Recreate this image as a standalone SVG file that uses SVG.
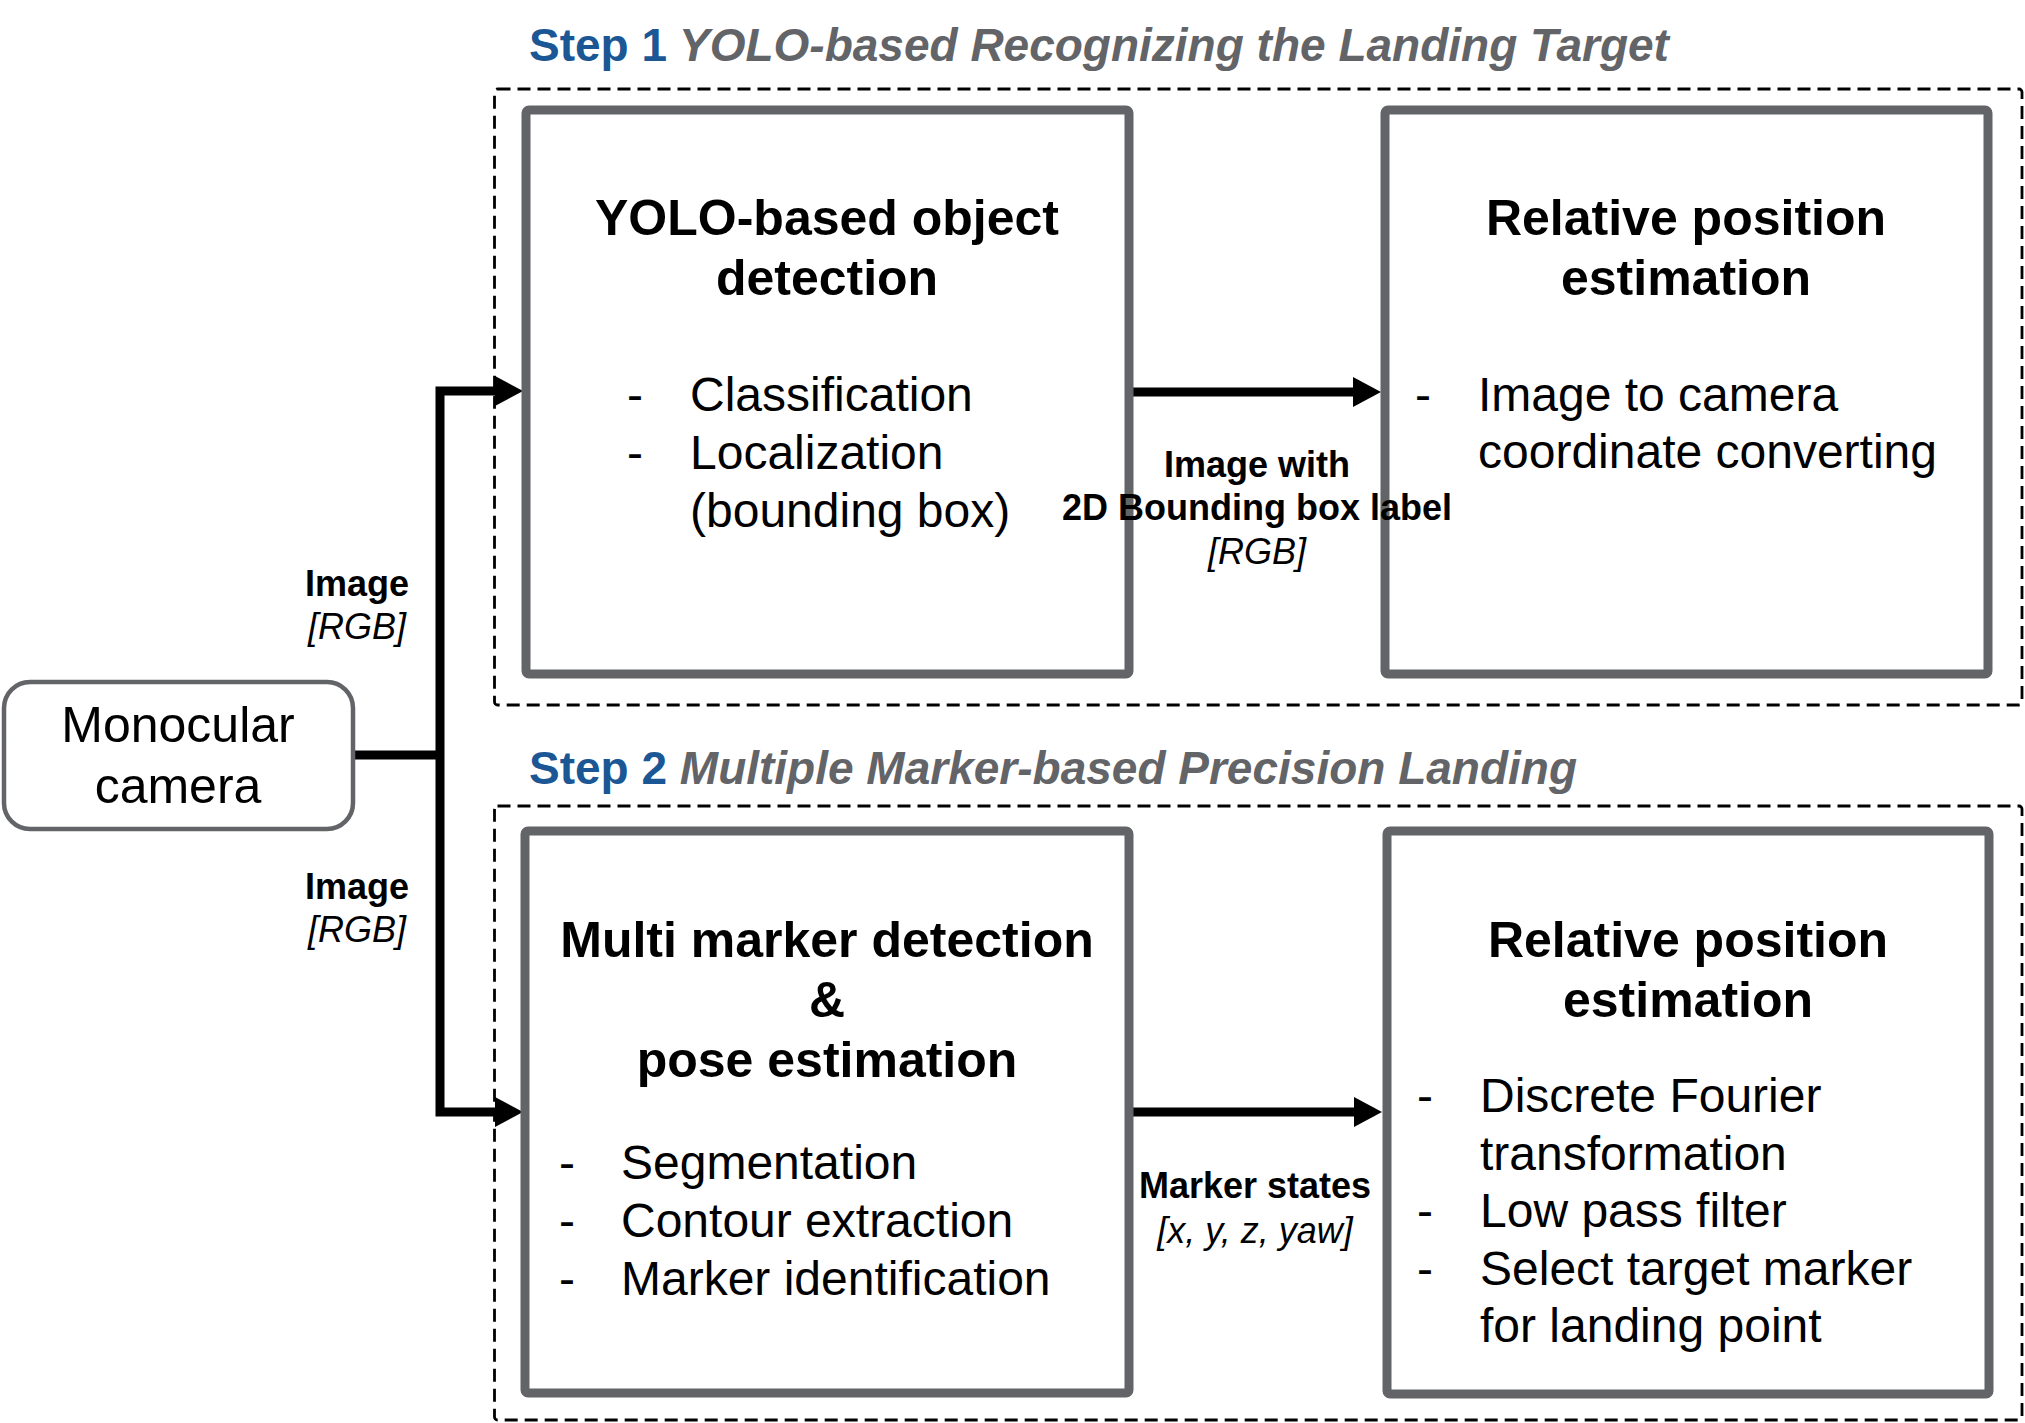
<svg xmlns="http://www.w3.org/2000/svg" width="2025" height="1423" viewBox="0 0 2025 1423">
<style>
text{font-family:"Liberation Sans",Arial,sans-serif;fill:#000}
.step{font-size:46px;font-weight:bold}
.stepn{fill:#1B5795}
.stepd{fill:#636468;font-style:italic}
.box{fill:#fff;stroke:#636468;stroke-width:9}
.cam{fill:#fff;stroke:#636468;stroke-width:4.5}
.dash{fill:none;stroke:#000;stroke-width:2.8;stroke-dasharray:13 7}
.ttl{font-size:50px;font-weight:bold;text-anchor:middle}
.item{font-size:48px}
.lbl{font-size:36px;font-weight:bold;text-anchor:middle}
.lbli{font-size:36px;font-style:italic;text-anchor:middle}
.conn{fill:none;stroke:#000;stroke-width:9;stroke-linejoin:miter}
</style>
<defs>
<marker id="ah" markerUnits="userSpaceOnUse" markerWidth="28" markerHeight="30" refX="2" refY="15" orient="auto-start-reverse" viewBox="0 0 28 30">
<path d="M0,0 L28,15 L0,30 Z" fill="#000"/>
</marker>
</defs>

<g id="step1">
<rect class="dash" x="494.5" y="89" width="1527.5" height="616" rx="3"/>
<text class="step" x="529" y="61"><tspan class="stepn">Step 1</tspan><tspan class="stepd"> YOLO-based Recognizing the Landing Target</tspan></text>
</g>
<g id="step2">
<rect class="dash" x="494.5" y="806" width="1527.5" height="614" rx="3"/>
<text class="step" x="529" y="784"><tspan class="stepn">Step 2</tspan><tspan class="stepd"> Multiple Marker-based Precision Landing</tspan></text>
</g>

<g id="connectors">
<path class="conn" d="M353,755 H444"/>
<path class="conn" d="M497,391 H440 V1112 H497" marker-start="url(#ah)" marker-end="url(#ah)"/>
<path class="conn" d="M1133,392 H1355" marker-end="url(#ah)"/>
<path class="conn" d="M1133,1112 H1356" marker-end="url(#ah)"/>
<text class="lbl" x="357" y="596">Image</text>
<text class="lbli" x="357" y="639">[RGB]</text>
<text class="lbl" x="357" y="899">Image</text>
<text class="lbli" x="357" y="942">[RGB]</text>
</g>

<g id="camera">
<rect class="cam" x="4" y="682" width="349" height="147" rx="26"/>
<text x="178" y="742" font-size="50" text-anchor="middle">Monocular</text>
<text x="178" y="803" font-size="50" text-anchor="middle">camera</text>
</g>

<g id="yolo">
<rect class="box" x="526" y="110" width="603" height="564" rx="3"/>
<text class="ttl" x="827" y="235">YOLO-based object</text>
<text class="ttl" x="827" y="295">detection</text>
<text class="item" x="627" y="411">-</text>
<text class="item" x="690" y="411">Classification</text>
<text class="item" x="627" y="469">-</text>
<text class="item" x="690" y="469">Localization</text>
<text class="item" x="690" y="527">(bounding box)</text>
</g>

<g id="rel1">
<rect class="box" x="1385" y="110" width="603" height="564" rx="3"/>
<text class="ttl" x="1686" y="235">Relative position</text>
<text class="ttl" x="1686" y="295">estimation</text>
<text class="item" x="1415" y="411">-</text>
<text class="item" x="1478" y="411">Image to camera</text>
<text class="item" x="1478" y="468">coordinate converting</text>
</g>

<g id="lbl-ab">
<text class="lbl" x="1257" y="477">Image with</text>
<text class="lbl" x="1257" y="520">2D Bounding box label</text>
<text class="lbli" x="1257" y="564">[RGB]</text>
</g>

<g id="marker">
<rect class="box" x="525" y="831" width="604" height="562" rx="3"/>
<text class="ttl" x="827" y="957">Multi marker detection</text>
<text class="ttl" x="827" y="1017">&amp;</text>
<text class="ttl" x="827" y="1077">pose estimation</text>
<text class="item" x="559" y="1179">-</text>
<text class="item" x="621" y="1179">Segmentation</text>
<text class="item" x="559" y="1237">-</text>
<text class="item" x="621" y="1237">Contour extraction</text>
<text class="item" x="559" y="1295">-</text>
<text class="item" x="621" y="1295">Marker identification</text>
</g>

<g id="rel2">
<rect class="box" x="1387" y="831" width="602" height="563" rx="3"/>
<text class="ttl" x="1688" y="957">Relative position</text>
<text class="ttl" x="1688" y="1017">estimation</text>
<text class="item" x="1417" y="1112">-</text>
<text class="item" x="1480" y="1112">Discrete Fourier</text>
<text class="item" x="1480" y="1170">transformation</text>
<text class="item" x="1417" y="1227">-</text>
<text class="item" x="1480" y="1227">Low pass filter</text>
<text class="item" x="1417" y="1285">-</text>
<text class="item" x="1480" y="1285">Select target marker</text>
<text class="item" x="1480" y="1342">for landing point</text>
</g>

<g id="lbl-cd">
<text class="lbl" x="1255" y="1198">Marker states</text>
<text class="lbli" x="1255" y="1243">[x, y, z, yaw]</text>
</g>
</svg>
